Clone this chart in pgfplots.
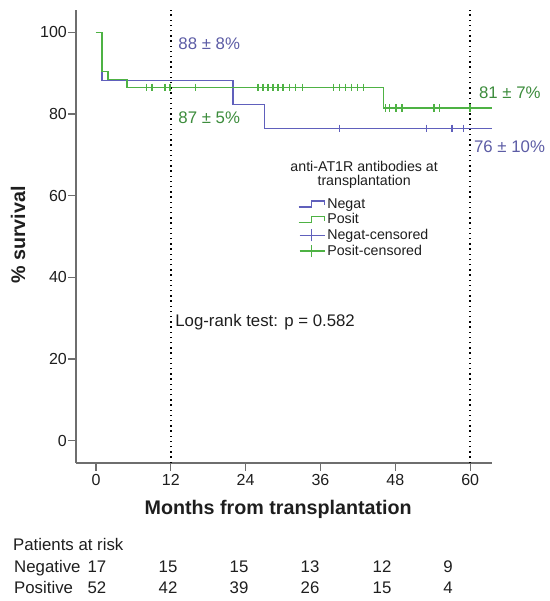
\documentclass[border=0pt]{standalone}
\usepackage{fontspec}
\setmainfont{Liberation Sans}
\usepackage{pgfplots}
\pgfplotsset{compat=1.18}
\definecolor{negc}{RGB}{96,96,188}
\definecolor{posc}{RGB}{78,178,68}
\definecolor{negt}{RGB}{92,92,165}
\definecolor{post}{RGB}{60,140,60}
\definecolor{axc}{RGB}{110,110,110}
\definecolor{txt}{RGB}{30,30,30}
\begin{document}
\begin{tikzpicture}[x=1pt,y=1pt]
\useasboundingbox (0pt,0pt) rectangle (549pt,601pt);
\begin{axis}[
  at={(76pt,138pt)}, anchor=south west, scale only axis,
  width=416pt, height=453pt,
  xmin=-3.2, xmax=63.5, ymin=-5.5, ymax=105.5,
  axis lines=left, axis line style={-, axc, line width=1.2pt},
  xtick={0,12,24,36,48,60}, ytick={0,20,40,60,80,100},
  tick align=outside, major tick length=8pt,
  tick style={axc, line width=1.2pt},
  /pgf/number format/assume math mode=true,
  tick label style={font=\fontsize{16}{19}\selectfont, text=txt},
  yticklabel style={inner sep=1pt},
  xticklabel style={inner sep=3pt},
  xlabel={\bfseries Months from transplantation},
  ylabel={\bfseries \% survival},
  label style={font=\fontsize{19.7}{22}\selectfont, text=txt},
  xlabel style={at={(axis description cs:0.486,-0.102)}, anchor=center},
  ylabel style={at={(axis description cs:-0.139,0.503)}, anchor=center},
  clip=false,
  legend style={at={(axis description cs:0.533,0.589)}, anchor=north west,
    draw=none, fill=none, inner sep=0pt, row sep=0pt,
    font=\fontsize{14.2}{15.5}\selectfont, text=txt,
    /tikz/every even column/.append style={column sep=1pt}},
  legend cell align=left,
]
\addplot[const plot, negc, line width=1.5pt,
  legend image code/.code={\draw[negc, line width=1.4pt] (0pt,-3pt) -- (13pt,-3pt) -- (13pt,3pt) -- (26pt,3pt) -- (26pt,-1pt);}]
  coordinates {(0,100) (1.0,88.2) (22.0,82.4) (27.0,76.5) (63.5,76.5)};
\addlegendentry{Negat}
\addplot[const plot, posc, line width=1.5pt,
  legend image code/.code={\draw[posc, line width=1.4pt] (0pt,-3pt) -- (13pt,-3pt) -- (13pt,3pt) -- (26pt,3pt) -- (26pt,-1pt);}]
  coordinates {(0,100) (1.0,90.4) (1.9,88.5) (5.0,86.5) (46.1,81.5) (63.5,81.5)};
\addlegendentry{Posit}
\addplot[only marks, mark=|, mark size=3.8pt, negc, mark options={line width=1.4pt},
  legend image code/.code={\draw[negc, line width=1.4pt] (1pt,0pt) -- (26pt,0pt); \draw[negc, line width=1.4pt] (13pt,-6pt) -- (13pt,6pt);}]
  coordinates {(39.0,76.5) (53.0,76.5) (57.1,76.5) (58.9,76.5)};
\addlegendentry{Negat-censored}
\addplot[only marks, mark=|, mark size=3.8pt, posc, mark options={line width=1.4pt},
  legend image code/.code={\draw[posc, line width=1.4pt] (1pt,0pt) -- (26pt,0pt); \draw[posc, line width=1.4pt] (13pt,-6pt) -- (13pt,6pt);}]
  coordinates {(8.1,86.5) (9.0,86.5) (11.1,86.5) (11.9,86.5) (16.0,86.5)
    (26.0,86.5) (26.8,86.5) (27.6,86.5) (28.4,86.5) (29.2,86.5) (30.0,86.5) (31.0,86.5) (32.0,86.5) (33.1,86.5)
    (38.1,86.5) (39.0,86.5) (40.0,86.5) (41.0,86.5) (41.9,86.5) (42.9,86.5)
    (46.4,81.5) (47.1,81.5) (48.1,81.5) (49.1,81.5) (54.2,81.5) (55.1,81.5) (60.0,81.5)};
\addlegendentry{Posit-censored}
\addplot[forget plot, black, line width=1.4pt, dash pattern=on 1.4pt off 3.8pt] coordinates {(12,-5.5) (12,105.5)};
\addplot[forget plot, black, line width=1.4pt, dash pattern=on 1.4pt off 3.8pt] coordinates {(60,-5.5) (60,105.5)};
\node[anchor=base west, inner sep=0pt, text=negt, font=\fontsize{16.8}{20}\selectfont] at (axis cs:13.2,95.7) {88 ± 8\%};
\node[anchor=base west, inner sep=0pt, text=post, font=\fontsize{16.8}{20}\selectfont] at (axis cs:13.2,77.8) {87 ± 5\%};
\node[anchor=base west, inner sep=0pt, text=post, font=\fontsize{16.8}{20}\selectfont] at (axis cs:61.4,83.7) {81 ± 7\%};
\node[anchor=base west, inner sep=0pt, text=negt, font=\fontsize{16.8}{20}\selectfont] at (axis cs:60.6,70.7) {76 ± 10\%};
\node[anchor=base west, inner sep=0pt, text=txt, font=\fontsize{16.8}{20}\selectfont] at (axis cs:12.7,27.9) {Log-rank test: p = 0.582};
\node[align=center, inner sep=0pt, text=txt, font=\fontsize{14.2}{14}\selectfont] at (axis cs:43.0,65.1) {anti-AT1R antibodies at\\transplantation};
\end{axis}
\begin{scope}[every node/.style={inner sep=0pt, text=txt, font=\fontsize{16.8}{19}\selectfont}]
\node[anchor=base west] at (13pt,50.3pt) {Patients at risk};
\node[anchor=base west] at (14pt,28.3pt) {Negative};
\node[anchor=base west] at (14pt,7.3pt) {Positive};
\foreach \x/\a/\b in {97/17/52, 168/15/42, 239/15/39, 310/13/26, 382/12/15, 448/9/4} {
  \node[anchor=base] at (\x pt,28.3pt) {\a};
  \node[anchor=base] at (\x pt,7.3pt) {\b};
}
\end{scope}
\end{tikzpicture}
\end{document}
